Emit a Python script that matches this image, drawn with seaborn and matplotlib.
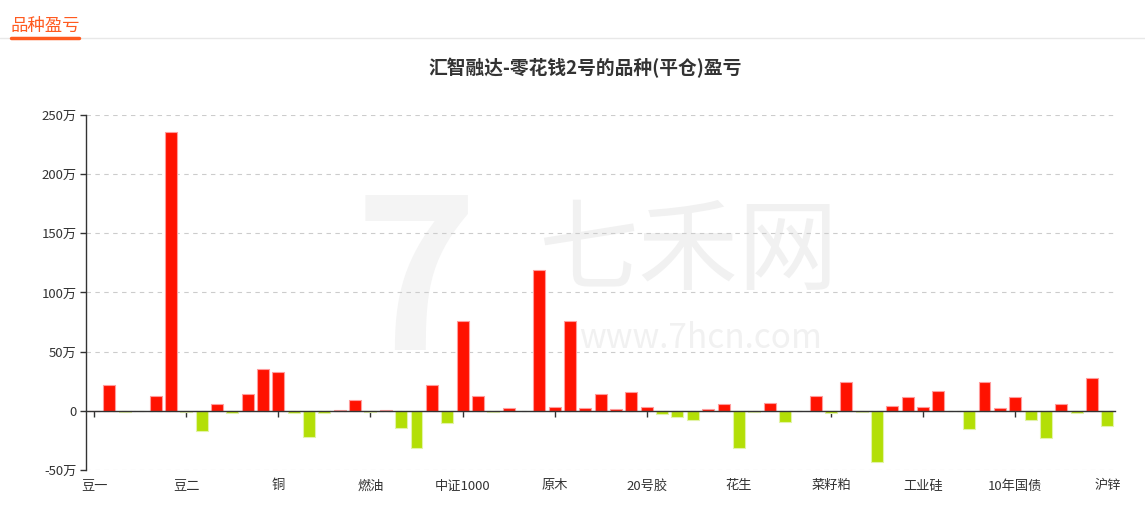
import numpy as np
import pandas as pd
import matplotlib.pyplot as plt
import seaborn as sns
from matplotlib.lines import Line2D

# 品种 (only every 6th label is shown on the axis)
categories = [
    "豆一", "豆粕", "豆油", "玉米", "棕榈油", "鸡蛋",
    "豆二", "聚乙烯", "聚丙烯", "PVC", "铁矿石", "焦炭",
    "铜", "铝", "镍", "锡", "黄金", "白银",
    "燃油", "沥青", "螺纹钢", "热卷", "沪深300", "上证50",
    "中证1000", "中证500", "纸浆", "不锈钢", "天然橡胶", "生猪",
    "原木", "碳酸锂", "多晶硅", "集运指数", "低硫燃油", "液化石油气",
    "20号胶", "苹果", "红枣", "棉花", "白糖", "菜籽油",
    "花生", "甲醇", "PTA", "纯碱", "玻璃", "尿素",
    "菜籽粕", "硅铁", "锰硅", "短纤", "对二甲苯", "烧碱",
    "工业硅", "氧化铝", "焦煤", "乙二醇", "苯乙烯", "5年国债",
    "10年国债", "30年国债", "2年国债", "沪铅", "国际铜", "瓶片",
    "沪锌",
]

# 平仓盈亏 (万)
pnl = [
    0, 22, -1, -0.5, 12.5, 236,
    -0.8, -17, 6, -2, 14.5, 35.5,
    33, -1.7, -22, -1.7, 1, 9,
    -1, 0.5, -14.5, -31.5, 22, -10.7,
    76, 12.5, -0.8, 2, -0.3, 119,
    3, 75.5, 2, 14, 1.4, 15.5,
    3, -2.5, -5.5, -8, 1.6, 5.5,
    -31, -1, 6.5, -9.3, -0.3, 12.5,
    -2, 24.5, -1.2, -43.5, 4, 11.5,
    3.4, 17, -0.3, -15.5, 24.5, 2,
    12, -7.9, -22.8, 5.5, -1.7, 27.5,
    -12.4,
]

yticks = [-50, 0, 50, 100, 150, 200, 250]
ytick_labels = ["-50万", "0", "50万", "100万", "150万", "200万", "250万"]

df = pd.DataFrame({"品种": categories, "盈亏": pnl})
df["sign"] = np.where(df["盈亏"] >= 0, "盈", "亏")

sns.set_theme(style="white")
plt.rcParams['font.family'] = ['Noto Sans CJK SC', 'DejaVu Sans']
plt.rcParams['axes.unicode_minus'] = False

red = "#ff1200"
green = "#b3df06"

fig = plt.figure(figsize=(11.45, 5.14), dpi=100)
ax = fig.add_axes([0.0755, 0.0856, 0.8983, 0.6907])

# watermark
ax.text(0.585, 0.61, "七禾网", transform=ax.transAxes, fontsize=72, color="#f1f1f1",
        ha="center", va="center", zorder=0)
ax.text(0.597, 0.37, "www.7hcn.com", transform=ax.transAxes, fontsize=24, color="#f1f1f1",
        ha="center", va="center", zorder=0)
ax.text(0.32, 0.51, "7", transform=ax.transAxes, fontsize=150, color="#f4f4f4",
        fontweight="bold", ha="center", va="center", zorder=0)

sns.barplot(data=df, x="品种", y="盈亏", hue="sign", palette={"盈": red, "亏": green},
            dodge=False, width=0.78, legend=False, ax=ax, order=categories,
            saturation=1, zorder=2)

for bar in ax.patches:
    if bar.get_height() >= 0:
        bar.set_edgecolor("#ff9c9c")
    else:
        bar.set_edgecolor("#e2f3a8")
    bar.set_linewidth(0.8)

ax.set_xlim(-0.5, len(categories) - 0.5)
ax.set_ylim(-50, 250)
ax.set_yticks(yticks)
ax.set_yticklabels(ytick_labels)
ax.yaxis.grid(True, linestyle=(0, (4, 4)), color="#cccccc", linewidth=0.8)
ax.set_axisbelow(True)

for s in ["top", "right"]:
    ax.spines[s].set_visible(False)
ax.spines["left"].set_color("#333333")
ax.spines["left"].set_linewidth(1)
ax.spines["bottom"].set_position(("data", 0))
ax.spines["bottom"].set_color("#333333")
ax.spines["bottom"].set_linewidth(1)
ax.spines["bottom"].set_zorder(3)

label_idx = list(range(0, len(categories), 6))
ax.set_xticks(label_idx)
ax.set_xticklabels([])
ax.tick_params(axis="x", bottom=True, direction="out", length=4, color="#333333", width=1)
ax.tick_params(axis="y", left=True, direction="out", length=4, color="#333333", width=1,
               labelsize=9.5, labelcolor="#333333", pad=3)
for i in label_idx:
    ax.text(i, -0.045, categories[i], transform=ax.get_xaxis_transform(),
            ha="center", va="center", fontsize=9.5, color="#333333")
ax.set_xlabel("")
ax.set_ylabel("")

# header
fig.text(11 / 1145, 1 - 26 / 514, "品种盈亏", color="#ff5a1f", fontsize=12.5, va="center", ha="left")
fig.add_artist(Line2D([0, 1], [1 - 38 / 514] * 2, color="#e8e8e8", linewidth=1))
fig.add_artist(Line2D([11 / 1145, 79 / 1145], [1 - 37.5 / 514] * 2, color="#ff5a1f", linewidth=2.5))

fig.text(585 / 1145, 1 - 68 / 514, "汇智融达-零花钱2号的品种(平仓)盈亏", fontsize=13.5,
         fontweight="bold", color="#333333", ha="center", va="center")

fig.savefig("out.png", dpi=100)
